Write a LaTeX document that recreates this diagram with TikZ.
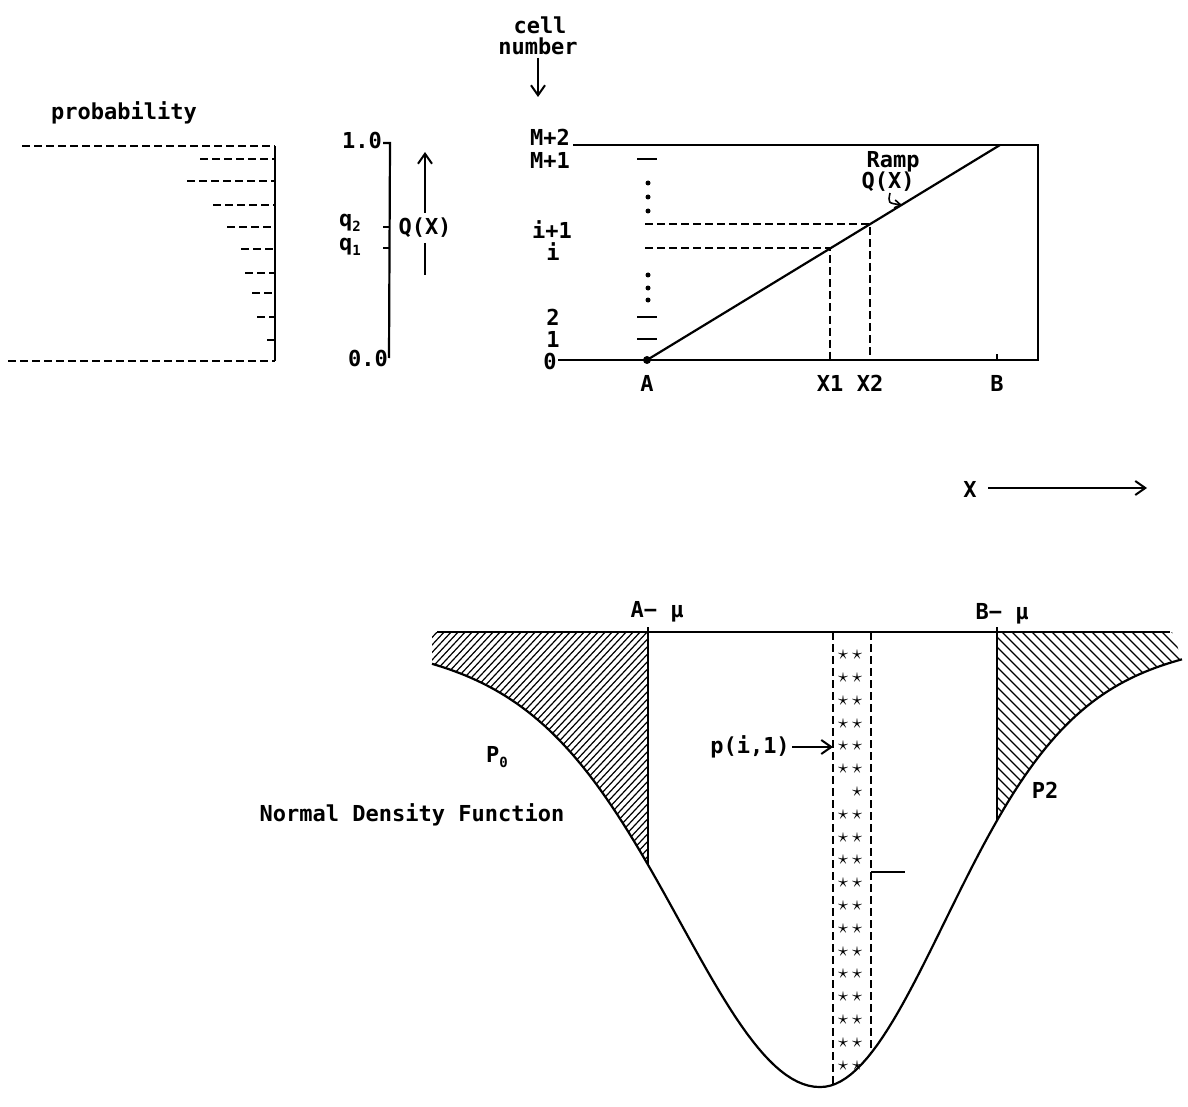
\documentclass[tikz,border=0pt]{standalone}
\usepackage{fontspec}
\setmainfont{DejaVu Sans Mono}
\usetikzlibrary{arrows.meta}

\tikzset{
  lbl/.style={font=\fontsize{11}{12}\selectfont\bfseries, inner sep=1pt},
  sline/.style={line width=1.1pt},
  dline/.style={line width=1pt, dash pattern=on 4pt off 2pt},
  hatch/.style={line width=0.6pt},
  arr/.style={line width=1pt, -{Straight Barb[length=5pt,width=7pt]}},
  starmark/.style={inner sep=0pt, font=\normalsize},
  declare function={dl(\t)=632+455*(0.8*exp(-((820-\t)/135)^2/2)+0.2*exp(-((820-\t)/245)^2/2));
                    dr(\t)=632+455*(0.8*exp(-((\t-820)/120)^2/2)+0.2*exp(-((\t-820)/220)^2/2));}
}

\begin{document}
\begin{tikzpicture}[x=0.5pt,y=-0.5pt]
\useasboundingbox (0,0) rectangle (1188,1107);

% probability bars
\node[lbl] (prob) at (124,113) {probability};
\draw[dline] (22,146) -- (275,146);
\draw[dline] (8,361) -- (275,361);
\draw[sline] (275,146) -- (275,361);
\foreach \y/\x in {159/200,181/187,205/213,227/227,249/241,273/245,293/252,317/257,340/267}
  \draw[dline] (\x,\y) -- (275,\y);

% Q scale
\draw[sline] (383,143) -- (390,143) -- (389,358);
\draw[sline] (383,227) -- (390,227);
\draw[sline] (383,248) -- (390,248);
\node[lbl] (qone) at (362,140) {1.0};
\node[lbl] (qzero) at (368,358) {0.0};
\node[lbl, inner sep=0pt] (qtwo) at (350,223) {q\raisebox{-0.4ex}{\scriptsize 2}};
\node[lbl, inner sep=0pt] (qfirst) at (350,247) {q\raisebox{-0.4ex}{\scriptsize 1}};
\node[lbl] (qx) at (425,228) {Q(X)};
\coordinate (qtop) at (425,152);
\coordinate (qbot) at (425,275);
\draw[arr] (qx) ++(0,-15) -- (qtop);
\draw[line width=1pt] (qx) ++(0,15) -- (qbot);

% cell number box
\node[lbl] (cell) at (540,25) {cell};
\node[lbl] (number) at (538,46) {number};
\coordinate (celltip) at (538,97);
\draw[arr] (number) ++(0,12) -- (celltip);
\draw[sline] (573,145) -- (1038,145) -- (1038,360) -- (558,360);
\coordinate (A) at (647,360);
\coordinate (Btop) at (1000,145);
\coordinate (X1) at (830,248.5);
\coordinate (X2) at (870,224);
\draw[sline] (A) -- (Btop);
\fill (A) circle (4);
\draw[dline] (645,248.5) -- (X1) -- (830,360);
\draw[dline] (645,224) -- (X2) -- (870,360);
\draw[sline] (997,360) -- (997,354);
\foreach \y in {159,317,339} \draw[sline] (637,\y) -- (657,\y);
\foreach \y in {183,197,211,275,288,300} \fill (648,\y) circle (2.5);
\node[lbl] (mtwo) at (550,137) {M+2};
\node[lbl] (mone) at (550,160) {M+1};
\node[lbl] (ione) at (552,230) {i+1};
\node[lbl] (ii) at (553,252) {i};
\node[lbl] (ctwo) at (553,317) {2};
\node[lbl] (cone) at (553,339) {1};
\node[lbl] (czero) at (550,361) {0};
\node[lbl] (la) at (647,383) {A};
\node[lbl] (lx1) at (830,383) {X1};
\node[lbl] (lx2) at (870,383) {X2};
\node[lbl] (lb) at (997,383) {B};
\node[lbl] (ramp) at (893,162) {Ramp};
\node[lbl] (rampq) at (888,182) {Q(X)};
\draw[line width=0.8pt, -{Straight Barb[length=3pt,width=4pt]}] (890,193) .. controls (888,203) .. (902,205);

% X axis arrow
\node[lbl] (xlbl) at (970,489) {X};
\coordinate (xend) at (1147,488);
\draw[arr] (xlbl) ++(18,-1) -- (xend);

% normal density
\begin{scope}
  \clip (432,632) -- (648,632) -- (648,{dl(648)}) -- plot[domain=648:432,samples=40] (\x,{dl(\x)}) -- cycle;
  \foreach \k in {180,187,...,650} \draw[hatch] (\k,900) -- ++(280,-300);
\end{scope}
\begin{scope}
  \clip (997,632) -- (1172,632) -- (1182,{dr(1182)}) -- plot[domain=1182:997,samples=40] (\x,{dr(\x)}) -- cycle;
  \foreach \k in {770,780,...,1160} \draw[hatch] (\k,600) -- ++(300,300);
\end{scope}
\draw[sline] (437,632) -- (1170,632);
\draw[sline] plot[domain=432:820,samples=70] (\x,{dl(\x)}) -- plot[domain=820:1182,samples=70] (\x,{dr(\x)});
\draw[sline] (648,627) -- (648,{dl(648)});
\draw[sline] (997,627) -- (997,{dr(997)});
\draw[dline] (833,632) -- (833,{dr(833)});
\draw[dline] (871,632) -- (871,{dr(871)});
\draw[line width=0.8pt] (871,872) -- (905,872);
\foreach \r in {0,...,18} {
  \pgfmathsetmacro\yy{655+22.8*\r}
  \ifnum\r=6 \else \node[starmark] (sa\r) at (843,\yy) {$\star$}; \fi
  \node[starmark] (sb\r) at (857,\yy) {$\star$};
}
\node[lbl] (amu) at (657,612) {A− μ};
\node[lbl] (bmu) at (1002,614) {B− μ};
\node[lbl] (pzero) at (497,757) {P\raisebox{-0.4ex}{\scriptsize 0}};
\node[lbl] (ptwo) at (1045,790) {P2};
\node[lbl] (normal) at (412,815) {Normal Density Function};
\node[lbl] (pi) at (750,747) {p(i,1)};
\coordinate (pitip) at (833,747);
\draw[arr] (pi.east) -- (pitip);
\end{tikzpicture}
\end{document}
